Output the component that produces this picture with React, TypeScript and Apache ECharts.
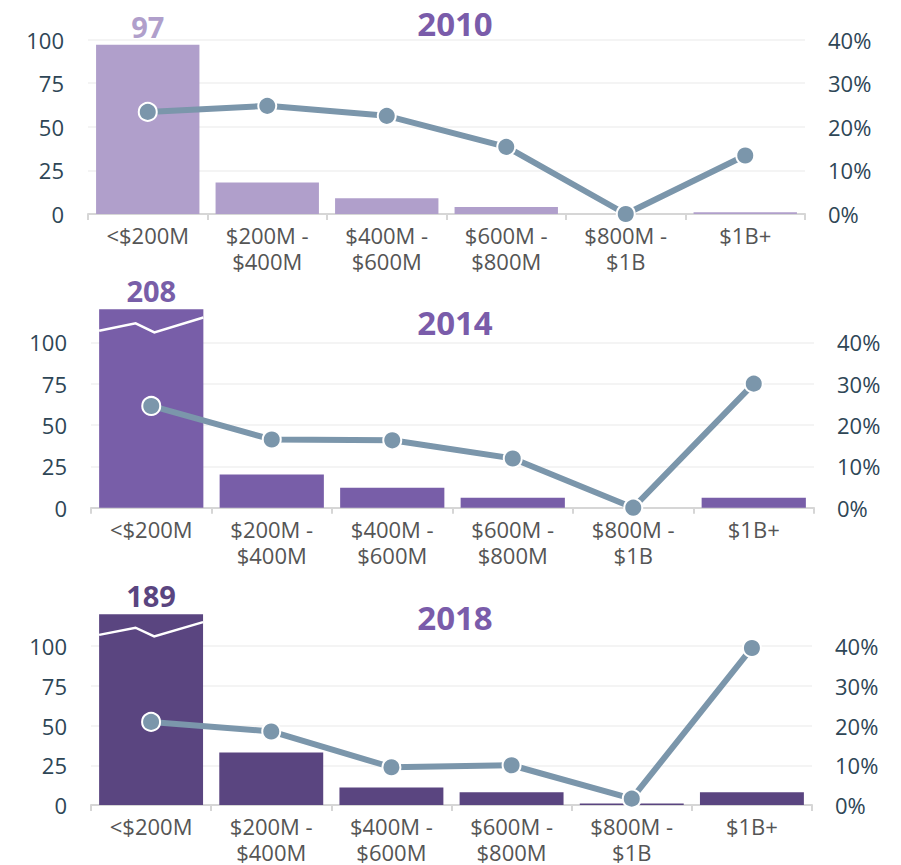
import React, { useEffect, useRef } from "react";
import * as echarts from "echarts";

const categories = ["<$200M", "$200M -\n$400M", "$400M -\n$600M", "$600M -\n$800M", "$800M -\n$1B", "$1B+"];
const years = ["2010", "2014", "2018"];
const counts2010 = [97, 18, 9, 4, 0, 1];
const counts2014 = [208, 20, 12, 6, 0, 6];
const counts2018 = [189, 33, 11, 8, 1, 8];
const pct2010 = [23.4, 24.8, 22.5, 15.4, 0, 13.4];
const pct2014 = [24.6, 16.5, 16.3, 11.9, 0, 30.0];
const pct2018 = [20.9, 18.5, 9.5, 10.0, 1.6, 39.5];
const countTicksMax = 100;
const countTickStep = 25;
const pctTicksMax = 40;
const pctTickStep = 10;

const counts = [counts2010, counts2014, counts2018];
const pcts = [pct2010, pct2014, pct2018];
const barColors = ["#b09fcb", "#785ea8", "#5a4580"];
const titleColor = "#7a5caa";
const lineColor = "#7b96ab";
const FONT = "'Open Sans', 'Noto Sans', sans-serif";
const CAP = 120; // visual height for broken bars
const GAP = 0.135;
const breakShape = [
  [0, 107],
  [0.35, 111.5],
  [0.53, 106],
  [1, 115],
];

const grids = [
  { left: 88, right: 96, top: 39.5, height: 174.5 },
  { left: 91, right: 87, top: 342.3, height: 165.4 },
  { left: 91, right: 89, top: 646, height: 163.3 },
];
const titleY = [23, 322, 617];

export default function App() {
  const ref = useRef<HTMLDivElement>(null);
  useEffect(() => {
    const chart = echarts.init(ref.current!, undefined, { renderer: "svg" });
    const xAxis: any[] = [];
    const yAxis: any[] = [];
    const series: any[] = [];
    grids.forEach((g, i) => {
      xAxis.push({
        type: "category",
        gridIndex: i,
        data: categories,
        axisLine: { lineStyle: { color: "#d6d6d6", width: 2 } },
        axisTick: { show: true, alignWithLabel: false, length: 6, lineStyle: { color: "#d6d6d6", width: 2 } },
        axisLabel: { interval: 0, fontFamily: FONT, fontSize: 22, lineHeight: 26, color: "#555", margin: 8 },
        splitLine: { show: false },
      });
      yAxis.push({
        type: "value",
        gridIndex: i,
        min: 0,
        max: countTicksMax,
        interval: countTickStep,
        axisLine: { show: false },
        axisTick: { show: false },
        axisLabel: { fontFamily: FONT, fontSize: 22, color: "#2e4656", margin: 24 },
        splitLine: { lineStyle: { color: "#f0f0f0", width: 1.5 } },
      });
      yAxis.push({
        type: "value",
        gridIndex: i,
        position: "right",
        min: 0,
        max: pctTicksMax,
        interval: pctTickStep,
        axisLine: { show: false },
        axisTick: { show: false },
        axisLabel: { fontFamily: FONT, fontSize: 22, color: "#2e4656", margin: 23, formatter: "{value}%" },
        splitLine: { show: false },
      });
      const c = counts[i];
      series.push({
        type: "bar",
        xAxisIndex: i,
        yAxisIndex: i * 2,
        barCategoryGap: GAP * 100 + "%",
        clip: false,
        z: 2,
        itemStyle: { color: barColors[i] },
        data: c.map((v, k) =>
          k === 0
            ? {
                value: Math.min(v, CAP),
                label: {
                  show: true,
                  position: "top",
                  distance: 4,
                  formatter: String(v),
                  fontFamily: FONT,
                  fontWeight: "bold",
                  fontSize: 29,
                  color: barColors[i],
                },
              }
            : Math.min(v, CAP)
        ),
      });
      const broken = c.map((v, k) => [k, v]).filter((d) => d[1] > countTicksMax);
      if (broken.length) {
        series.push({
          type: "custom",
          xAxisIndex: i,
          yAxisIndex: i * 2,
          z: 3,
          silent: true,
          data: broken,
          renderItem: (params: any, api: any) => {
            const idx = api.value(0);
            const base = api.coord([idx, 0]);
            const band = api.size([1, 0])[0];
            const w = band * (1 - GAP);
            const x0 = base[0] - w / 2;
            const points = breakShape.map(([fx, v]) => [x0 + fx * w, api.coord([idx, v])[1]]);
            return {
              type: "polyline",
              shape: { points },
              style: { stroke: "#fff", lineWidth: 2.5, fill: null },
            };
          },
        });
      }
      series.push({
        type: "line",
        xAxisIndex: i,
        yAxisIndex: i * 2 + 1,
        z: 5,
        data: pcts[i],
        symbol: "circle",
        symbolSize: 18,
        lineStyle: { color: lineColor, width: 6 },
        itemStyle: { color: lineColor, borderColor: "#fff", borderWidth: 2 },
      });
    });
    chart.setOption({
      animation: false,
      backgroundColor: "#fff",
      grid: grids.map((g) => ({ ...g, containLabel: false })),
      xAxis,
      yAxis,
      series,
      graphic: years.map((y, i) => ({
        type: "text",
        x: 455,
        y: titleY[i],
        style: {
          text: y,
          align: "center",
          verticalAlign: "middle",
          fontFamily: FONT,
          fontWeight: "bold",
          fontSize: 33,
          fill: titleColor,
        },
      })),
    });
    return () => chart.dispose();
  }, []);
  return <div ref={ref} style={{ position: "absolute", left: 0, top: 0, width: 901, height: 865 }} />;
}
